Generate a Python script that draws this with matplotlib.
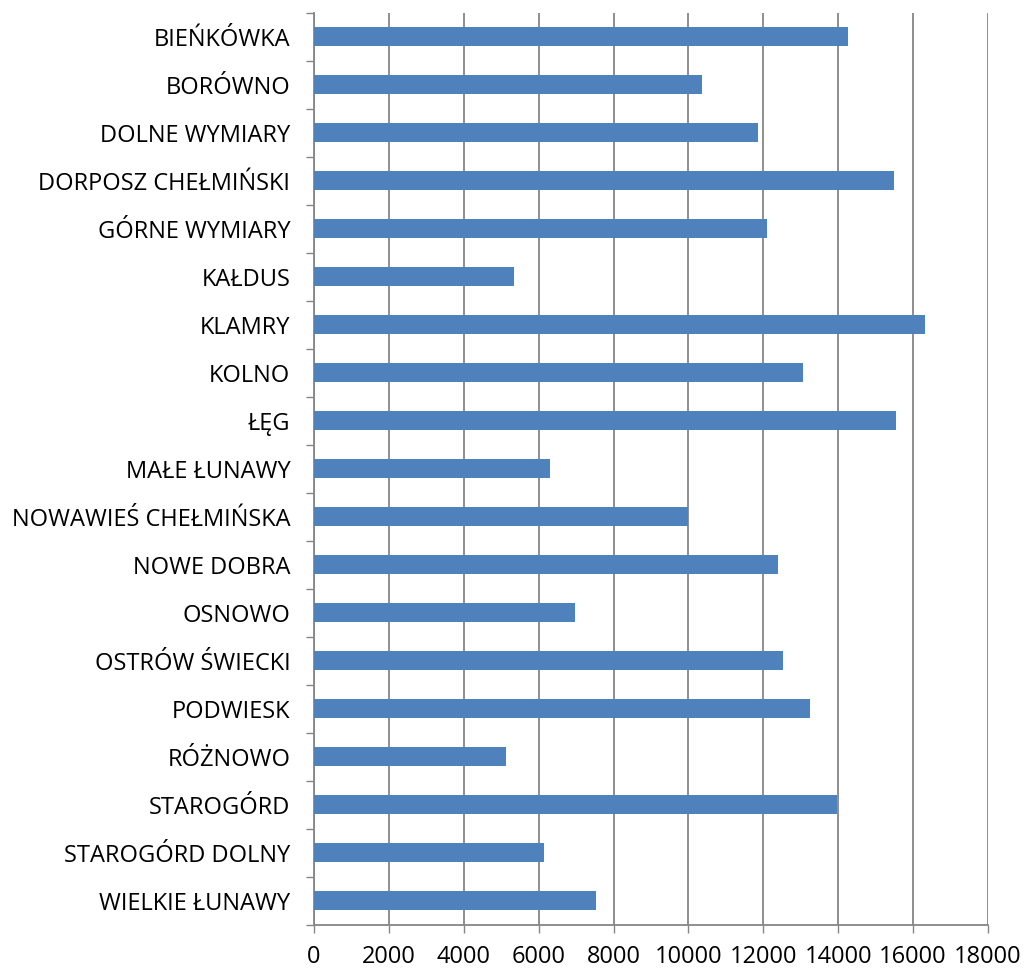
import matplotlib
matplotlib.use("Agg")
from matplotlib import pyplot as plt
import numpy as np

villages = ['BIEŃKÓWKA', 'BORÓWNO', 'DOLNE WYMIARY', 'DORPOSZ CHEŁMIŃSKI',
            'GÓRNE WYMIARY', 'KAŁDUS', 'KLAMRY', 'KOLNO', 'ŁĘG', 'MAŁE ŁUNAWY',
            'NOWAWIEŚ CHEŁMIŃSKA', 'NOWE DOBRA', 'OSNOWO', 'OSTRÓW ŚWIECKI',
            'PODWIESK', 'RÓŻNOWO', 'STAROGÓRD', 'STAROGÓRD DOLNY', 'WIELKIE ŁUNAWY']
values = [14260, 10360, 11860, 15490, 12090, 5350, 16330, 13070, 15530, 6290,
          9990, 12380, 6970, 12520, 13250, 5140, 13980, 6130, 7520]
xticks = list(range(0, 18001, 2000))

plt.rcParams['font.family'] = ['Open Sans', 'DejaVu Sans']
grey = '#868686'

fig = plt.figure(figsize=(10.25, 9.69), dpi=100)
ax = fig.add_axes([314/1025, 1-924.5/969, (988-314)/1025, (924.5-12.7)/969])

y = np.arange(len(villages))
ax.barh(y, values, height=0.4, color='#4F81BD', zorder=3)
ax.set_ylim(len(villages)-0.5, -0.5)
ax.set_xlim(0, 18000)

ax.set_yticks(y)
ax.set_yticklabels(villages, fontsize=17)
ax.tick_params(axis='y', which='major', length=0, pad=17)
ax.set_yticks(np.arange(-0.5, len(villages), 1), minor=True)
ax.tick_params(axis='y', which='minor', length=6, width=1, color=grey)

ax.set_xticks(xticks)
ax.set_xticklabels([str(t) for t in xticks], fontsize=17)
ax.tick_params(axis='x', length=6, width=1, color=grey, pad=9)
ax.xaxis.grid(True, color=grey, linewidth=1.3, zorder=0)

for s in ['top', 'right']:
    ax.spines[s].set_visible(False)
for s in ['left', 'bottom']:
    ax.spines[s].set_color(grey)
    ax.spines[s].set_linewidth(1.3)

fig.savefig('out.png', dpi=100)
